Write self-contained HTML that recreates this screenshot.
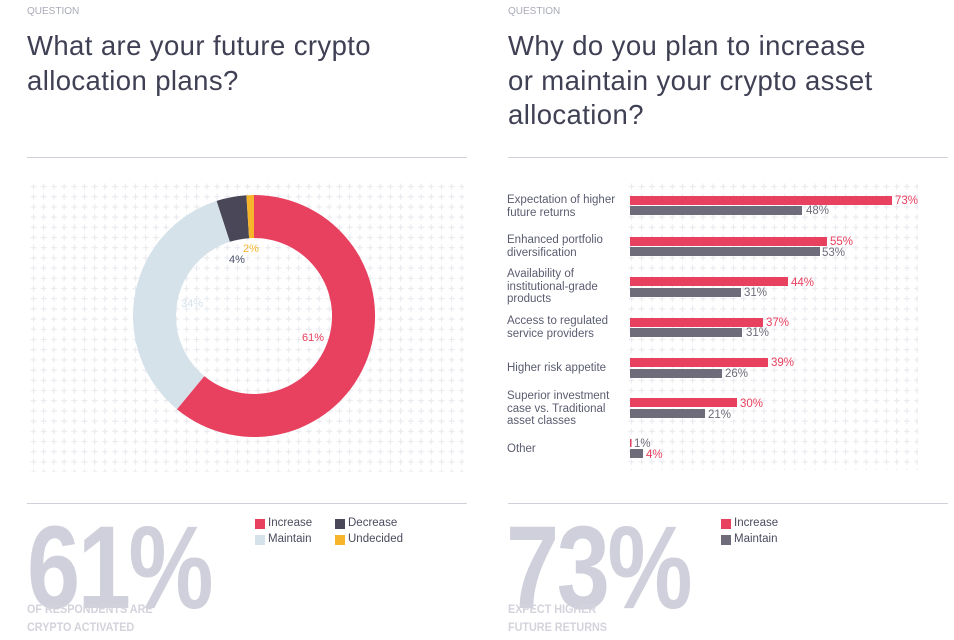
<!DOCTYPE html>
<html><head><meta charset="utf-8"><style>
*{margin:0;padding:0;box-sizing:border-box}
body{width:954px;height:640px;background:#fff;position:relative;font-family:"Liberation Sans",sans-serif;overflow:hidden}
.a{position:absolute;white-space:nowrap}
.q{font-size:10px;color:#a9abb8;top:6px}
.t{font-size:27.5px;letter-spacing:0.4px;color:#3f4054;line-height:34.5px;top:29px}
.rule{position:absolute;height:1px;background:#d0d0da}
.big{font-weight:bold;color:#cfd0db;font-size:118px;line-height:1;transform-origin:0 0;transform:scaleX(0.81);letter-spacing:-3px;top:509px}
.sub{font-weight:bold;color:#d3d3dc;font-size:12px;line-height:18px;top:600px;transform-origin:0 0;transform:scaleX(0.9)}
.lg{font-size:11.5px;color:#4a4b5e}
.sq{position:absolute;width:10px;height:10px}
.lab{font-size:11.5px;color:#5a5c70;line-height:12.5px}
</style></head><body>
<svg width="954" height="640" style="position:absolute;left:0;top:0">
<defs><pattern id="p" x="30" y="183" width="10.2" height="10.2" patternUnits="userSpaceOnUse">
<path d="M0.5 3.5h6M3.5 0.5v6" stroke="#e6e8ed" stroke-width="1"/></pattern>
<pattern id="p2" x="628" y="183" width="10.2" height="10.2" patternUnits="userSpaceOnUse">
<path d="M0.5 3.5h6M3.5 0.5v6" stroke="#e6e8ed" stroke-width="1"/></pattern></defs>
<rect x="28" y="182" width="436" height="290" fill="url(#p)"/>
<rect x="626" y="182" width="292" height="288" fill="url(#p2)"/>
<path d="M254 195 A121 121 0 1 1 176.9 409.2 L204.3 376.1 A78 78 0 1 0 254 238 Z" fill="#e8405f"/>
<path d="M176.9 409.2 A121 121 0 0 1 216.6 200.9 L229.9 241.8 A78 78 0 0 0 204.3 376.1 Z" fill="#d5e2ea"/>
<path d="M216.6 200.9 A121 121 0 0 1 246.4 195.2 L249.1 238.2 A78 78 0 0 0 229.9 241.8 Z" fill="#4a4858"/>
<path d="M246.4 195.2 A121 121 0 0 1 254 195 L254 238 A78 78 0 0 0 249.1 238.2 Z" fill="#f7b52c"/>
<g font-size="11" font-family="Liberation Sans, sans-serif">
<text x="302" y="341" fill="#e8405f">61%</text>
<text x="181" y="307" fill="#d5e2ea">34%</text>
<text x="229" y="263" fill="#4a5068">4%</text>
<text x="243" y="252" fill="#f7b52c">2%</text>
</g>
<g>
<rect x="630" y="196" width="262" height="9" fill="#e8405f"/><rect x="630" y="206" width="172" height="9" fill="#6e6c7a"/>
<rect x="630" y="237" width="197" height="9" fill="#e8405f"/><rect x="630" y="247" width="190" height="9" fill="#6e6c7a"/>
<rect x="630" y="277" width="158" height="9" fill="#e8405f"/><rect x="630" y="288" width="111" height="9" fill="#6e6c7a"/>
<rect x="630" y="318" width="133" height="9" fill="#e8405f"/><rect x="630" y="328" width="112" height="9" fill="#6e6c7a"/>
<rect x="630" y="358" width="138" height="9" fill="#e8405f"/><rect x="630" y="369" width="92" height="9" fill="#6e6c7a"/>
<rect x="630" y="398" width="107" height="9" fill="#e8405f"/><rect x="630" y="409" width="75" height="9" fill="#6e6c7a"/>
<rect x="630" y="439" width="1.5" height="8" fill="#e8405f"/><rect x="630" y="449" width="13" height="9" fill="#6e6c7a"/>
</g>
<g font-size="11.5" font-family="Liberation Sans, sans-serif">
<text x="895" y="204" fill="#e8405f">73%</text><text x="806" y="214" fill="#6e6c7a">48%</text>
<text x="830" y="245" fill="#e8405f">55%</text><text x="822" y="256" fill="#6e6c7a">53%</text>
<text x="791" y="286" fill="#e8405f">44%</text><text x="744" y="296" fill="#6e6c7a">31%</text>
<text x="766" y="326" fill="#e8405f">37%</text><text x="746" y="336" fill="#6e6c7a">31%</text>
<text x="771" y="366" fill="#e8405f">39%</text><text x="725" y="377" fill="#6e6c7a">26%</text>
<text x="740" y="407" fill="#e8405f">30%</text><text x="708" y="418" fill="#6e6c7a">21%</text>
<text x="634" y="447" fill="#6e6c7a">1%</text><text x="646" y="458" fill="#e8405f">4%</text>
</g>
</svg>
<div class="a q" style="left:27px">QUESTION</div>
<div class="a q" style="left:508px">QUESTION</div>
<div class="a t" style="left:27px">What are your future crypto<br>allocation plans?</div>
<div class="a t" style="left:508px">Why do you plan to increase<br>or maintain your crypto asset<br>allocation?</div>
<div class="rule" style="left:27px;top:157px;width:440px"></div>
<div class="rule" style="left:508px;top:157px;width:440px"></div>
<div class="rule" style="left:27px;top:503px;width:440px"></div>
<div class="rule" style="left:508px;top:503px;width:440px"></div>

<div class="a lab" style="left:507px;top:194px">Expectation of higher<br>future returns</div>
<div class="a lab" style="left:507px;top:234px">Enhanced portfolio<br>diversification</div>
<div class="a lab" style="left:507px;top:268px">Availability of<br>institutional-grade<br>products</div>
<div class="a lab" style="left:507px;top:315px">Access to regulated<br>service providers</div>
<div class="a lab" style="left:507px;top:362px">Higher risk appetite</div>
<div class="a lab" style="left:507px;top:390px">Superior investment<br>case vs. Traditional<br>asset classes</div>
<div class="a lab" style="left:507px;top:443px">Other</div>

<div class="a big" style="left:27px">61%</div>
<div class="a big" style="left:506px">73%</div>
<div class="a sub" style="left:27px">OF RESPONDENTS ARE<br>CRYPTO ACTIVATED</div>
<div class="a sub" style="left:508px">EXPECT HIGHER<br>FUTURE RETURNS</div>

<div class="sq" style="left:255px;top:519px;background:#e8405f"></div><div class="a lg" style="left:268px;top:517px">Increase</div>
<div class="sq" style="left:335px;top:519px;background:#4a4858"></div><div class="a lg" style="left:348px;top:517px">Decrease</div>
<div class="sq" style="left:255px;top:535px;background:#d5e2ea"></div><div class="a lg" style="left:268px;top:533px">Maintain</div>
<div class="sq" style="left:335px;top:535px;background:#f7b52c"></div><div class="a lg" style="left:348px;top:533px">Undecided</div>
<div class="sq" style="left:721px;top:519px;background:#e8405f"></div><div class="a lg" style="left:734px;top:517px">Increase</div>
<div class="sq" style="left:721px;top:535px;background:#6e6c7a"></div><div class="a lg" style="left:734px;top:533px">Maintain</div>
</body></html>
